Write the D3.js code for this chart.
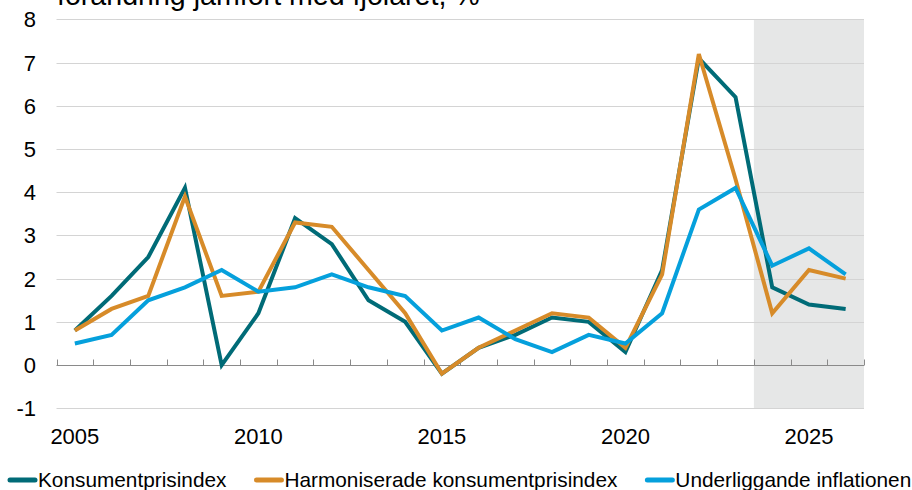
<!DOCTYPE html>
<html>
<head>
<meta charset="utf-8">
<script src="https://cdn.jsdelivr.net/npm/d3@7"></script>
<style>
  html, body { margin: 0; padding: 0; background: #fff; }
  svg { display: block; font-family: "Liberation Sans", Arial, sans-serif; }
</style>
</head>
<body>
<svg id="chart" width="912" height="490"></svg>
<script>
const years = [2005,2006,2007,2008,2009,2010,2011,2012,2013,2014,2015,2016,2017,2018,2019,2020,2021,2022,2023,2024,2025,2026];
const kpi   = [0.8,1.6,2.5,4.1,0.0,1.2,3.4,2.8,1.5,1.0,-0.2,0.4,0.7,1.1,1.0,0.3,2.2,7.1,6.2,1.8,1.4,1.3];
const hicp  = [0.8,1.3,1.6,3.9,1.6,1.7,3.3,3.2,2.2,1.2,-0.2,0.4,0.8,1.2,1.1,0.4,2.1,7.2,4.3,1.2,2.2,2.0];
const core  = [0.5,0.7,1.5,1.8,2.2,1.7,1.8,2.1,1.8,1.6,0.8,1.1,0.6,0.3,0.7,0.5,1.2,3.6,4.1,2.3,2.7,2.1];
const yTicks = [-1,0,1,2,3,4,5,6,7,8];
const xLabels = [2005,2010,2015,2020,2025];
const forecastStart = 2024;
const seriesNames = ["Konsumentprisindex","Harmoniserade konsumentprisindex","Underliggande inflationen"];
const seriesColors = ["#006b77","#d78b29","#05a0dc"];
const titleText = "förändring jämfört med fjolåret, %";

(function () {
const svg = d3.select("#chart");
const pLeft = 56.5, pRight = 864, pTop = 19.4, pBottom = 408.3;

const x = d3.scaleBand().domain(years).range([pLeft, pRight]).padding(0);
const y = d3.scaleLinear().domain([-1, 8]).range([pBottom, pTop]);
const cx = d => x(d) + x.bandwidth() / 2;

// forecast shade
svg.append("rect")
  .attr("x", x(forecastStart))
  .attr("y", y(8))
  .attr("width", pRight - x(forecastStart))
  .attr("height", y(-1) - y(8))
  .attr("fill", "#e6e7e7");

// gridlines
svg.append("g").selectAll("line")
  .data(yTicks.filter(t => t !== 0))
  .join("line")
  .attr("x1", pLeft).attr("x2", pRight)
  .attr("y1", d => Math.round(y(d)) + 0.5).attr("y2", d => Math.round(y(d)) + 0.5)
  .attr("stroke", "#d4d4d4").attr("stroke-width", 1);

// zero axis with upward ticks at band boundaries
const y0 = Math.round(y(0)) + 0.5;
svg.append("line")
  .attr("x1", pLeft).attr("x2", pRight)
  .attr("y1", y0).attr("y2", y0)
  .attr("stroke", "#8a8a8a").attr("stroke-width", 1);
const boundaries = years.map(d => x(d)).concat([pRight]);
svg.append("g").selectAll("line")
  .data(boundaries)
  .join("line")
  .attr("x1", d => Math.round(d) + 0.5).attr("x2", d => Math.round(d) + 0.5)
  .attr("y1", y0).attr("y2", y0 - 6)
  .attr("stroke", "#8a8a8a").attr("stroke-width", 1);

// y labels
svg.append("g").selectAll("text")
  .data(yTicks)
  .join("text")
  .attr("x", 36)
  .attr("y", d => y(d))
  .attr("dy", "0.36em")
  .attr("text-anchor", "end")
  .attr("font-size", 22)
  .attr("fill", "#000")
  .text(d => d);

// x labels
svg.append("g").selectAll("text")
  .data(xLabels)
  .join("text")
  .attr("x", d => cx(d))
  .attr("y", 444)
  .attr("text-anchor", "middle")
  .attr("font-size", 22)
  .attr("fill", "#000")
  .text(d => d);

// lines
const line = d3.line().x((d, i) => cx(years[i])).y(d => y(d));
[kpi, hicp, core].forEach((s, i) => {
  svg.append("path")
    .datum(s)
    .attr("d", line)
    .attr("fill", "none")
    .attr("stroke", seriesColors[i])
    .attr("stroke-width", 4)
    .attr("stroke-linejoin", "miter")
    .attr("stroke-miterlimit", 4);
});

// title (cut off at the top edge, as in the reference)
svg.append("text")
  .attr("x", 57)
  .attr("y", 5)
  .attr("font-size", 28.6)
  .attr("fill", "#000")
  .text(titleText);

// legend
const lg = svg.append("g");
let lx = 8;
const ly = 480;
seriesNames.forEach((name, i) => {
  lg.append("line")
    .attr("x1", lx + 2).attr("x2", lx + 27)
    .attr("y1", ly).attr("y2", ly)
    .attr("stroke", seriesColors[i])
    .attr("stroke-width", 5)
    .attr("stroke-linecap", "round");
  const t = lg.append("text")
    .attr("x", lx + 30)
    .attr("y", ly)
    .attr("dy", "0.36em")
    .attr("font-size", 20.8)
    .attr("fill", "#000")
    .text(name);
  lx = lx + 30 + t.node().getComputedTextLength() + 28;
});
})();
</script>
</body>
</html>
